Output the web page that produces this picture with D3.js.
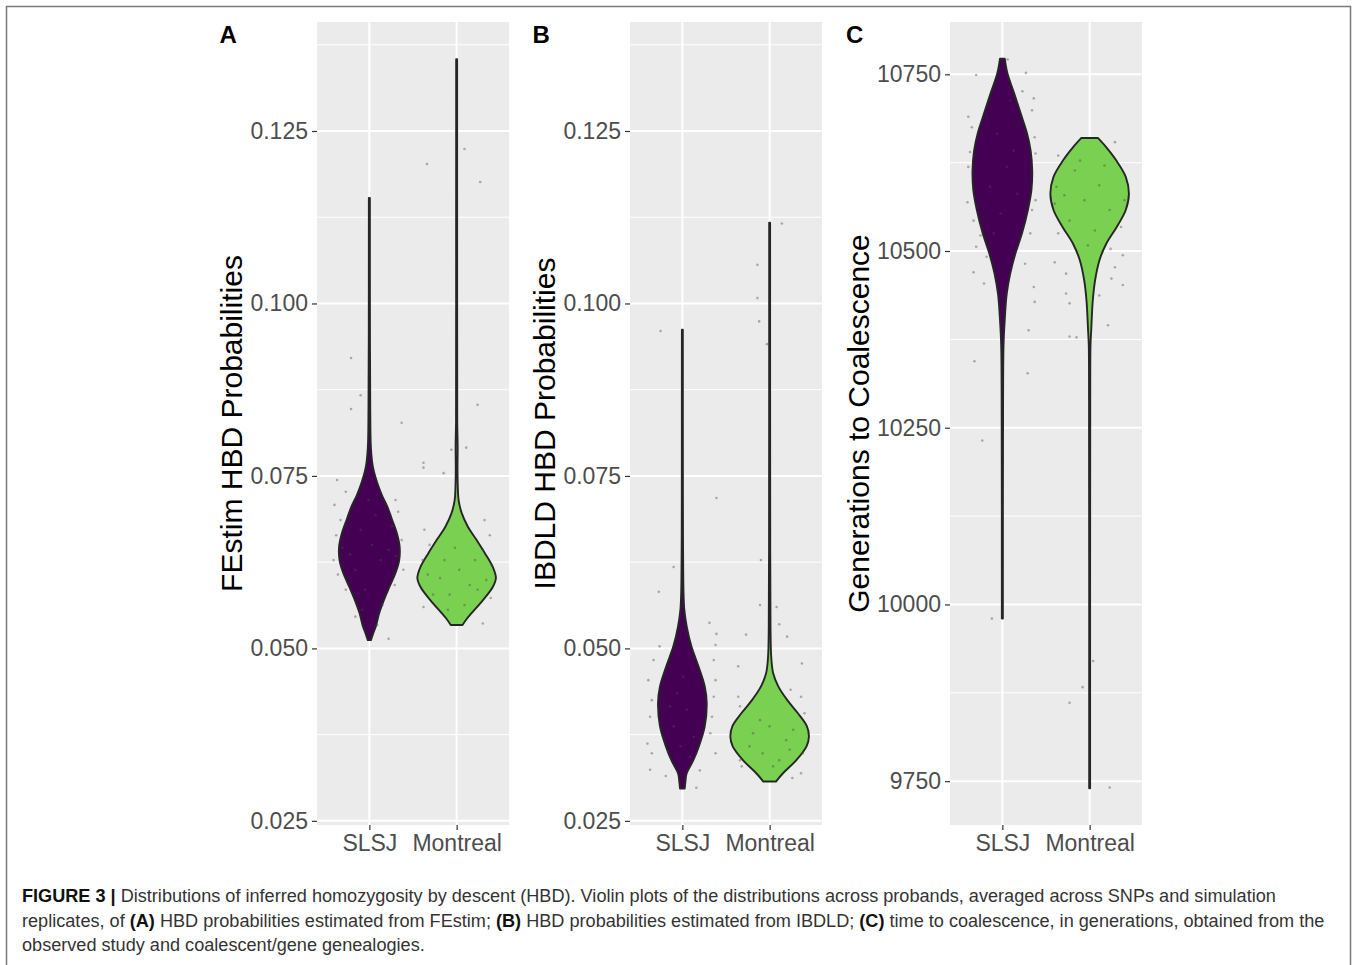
<!DOCTYPE html>
<html>
<head>
<meta charset="utf-8">
<script src="https://cdn.jsdelivr.net/npm/d3@7"></script>
<style>
  body { margin: 0; background: #fff; }
  text { font-family: "Liberation Sans", Arial, Helvetica, sans-serif; }
</style>
</head>
<body>
<svg id="fig" width="1354" height="965"></svg>
<script>
// Violin plots of HBD probabilities / generations to coalescence (three panels)

const groups = ["SLSJ", "Montreal"];
const probTicks = [0.025, 0.05, 0.075, 0.1, 0.125];
const genTicks = [9750, 10000, 10250, 10500, 10750];

// violin outlines: [value, relative half-width]
const festimSlsj = [[0.0512,0.04],[0.0522,0.10],[0.0533,0.17],[0.0551,0.25],[0.0570,0.37],[0.0589,0.51],[0.0610,0.67],[0.0628,0.76],[0.0648,0.77],[0.0667,0.70],[0.0688,0.57],[0.0705,0.46],[0.0722,0.32],[0.0740,0.20],[0.0763,0.09],[0.0790,0.04],[0.0850,0.022],[0.0950,0.015],[0.1153,0.013]];
const festimMontreal = [[0.0534,0.15],[0.0543,0.26],[0.0551,0.38],[0.0570,0.67],[0.0589,0.92],[0.0602,1.0],[0.0618,0.92],[0.0638,0.72],[0.0657,0.51],[0.0676,0.29],[0.0696,0.13],[0.0715,0.05],[0.0734,0.03],[0.0760,0.022],[0.0792,0.026],[0.0830,0.015],[0.1000,0.013],[0.1354,0.012]];
const ibdldSlsj = [[0.0297,0.06],[0.0308,0.08],[0.0319,0.11],[0.0338,0.28],[0.0358,0.42],[0.0387,0.57],[0.0421,0.62],[0.0445,0.57],[0.0474,0.41],[0.0503,0.23],[0.0532,0.11],[0.0556,0.05],[0.0580,0.03],[0.0643,0.018],[0.0715,0.014],[0.0962,0.012]];
const ibdldMontreal = [[0.0307,0.16],[0.0319,0.34],[0.0338,0.68],[0.0358,0.94],[0.0372,1.0],[0.0387,0.95],[0.0406,0.72],[0.0425,0.45],[0.0445,0.22],[0.0464,0.09],[0.0488,0.04],[0.0532,0.022],[0.0643,0.015],[0.1117,0.012]];
const genSlsj = [[9980,0.013],[10289,0.018],[10367,0.03],[10402,0.06],[10439,0.11],[10468,0.2],[10496,0.33],[10525,0.5],[10558,0.65],[10586,0.74],[10614,0.76],[10642,0.72],[10666,0.63],[10694,0.47],[10723,0.3],[10751,0.13],[10772,0.06]];
const genMontreal = [[9740,0.012],[10289,0.015],[10367,0.022],[10388,0.04],[10430,0.08],[10459,0.14],[10487,0.25],[10510,0.42],[10534,0.69],[10558,0.92],[10581,1.0],[10605,0.92],[10628,0.68],[10647,0.42],[10660,0.21]];

// jittered probands: [offset in category units, value]
const festimSlsjPts = [[-0.21,0.0921],[-0.10,0.0867],[-0.21,0.0847],[0.37,0.0827],[-0.37,0.0744],[-0.27,0.0727],[-0.40,0.0708],[-0.33,0.0686],[-0.38,0.0664],[-0.31,0.0646],[-0.41,0.0628],[-0.36,0.0607],[-0.27,0.0585],[0.30,0.0715],[0.33,0.0698],[0.26,0.0677],[0.37,0.0657],[0.31,0.0634],[0.39,0.0614],[0.29,0.0592],[-0.16,0.0546],[0.22,0.0514],[0.09,0.0534],[0.15,0.0563],[-0.10,0.0672],[0.03,0.0650],[0.13,0.0628],[-0.16,0.0614],[-0.05,0.0585],[0.07,0.0693],[-0.22,0.0636],[0.22,0.0643],[-0.01,0.0715],[-0.08,0.0556]];
const festimMontrealPts = [[-0.34,0.1202],[0.09,0.1224],[0.27,0.1176],[0.24,0.0853],[0.11,0.0791],[-0.06,0.0788],[-0.38,0.0769],[-0.38,0.0762],[-0.15,0.0754],[-0.37,0.0672],[-0.31,0.0650],[-0.39,0.0628],[-0.33,0.0607],[-0.27,0.0578],[-0.38,0.0560],[0.32,0.0686],[0.38,0.0664],[0.30,0.0643],[0.40,0.0621],[0.34,0.0599],[0.39,0.0573],[0.30,0.0536],[-0.14,0.0628],[0.03,0.0614],[0.15,0.0592],[-0.08,0.0578],[-0.19,0.0602],[0.21,0.0628],[-0.02,0.0646],[0.09,0.0563],[-0.10,0.0556],[0.24,0.0585]];
const ibdldSlsjPts = [[-0.25,0.0960],[0.39,0.0718],[-0.10,0.0618],[-0.27,0.0582],[0.31,0.0537],[0.39,0.0521],[0.38,0.0505],[-0.26,0.0503],[-0.33,0.0483],[0.36,0.0483],[-0.39,0.0454],[0.38,0.0454],[-0.35,0.0425],[0.36,0.0430],[-0.37,0.0401],[0.34,0.0401],[-0.40,0.0362],[0.32,0.0377],[-0.35,0.0348],[0.38,0.0348],[-0.37,0.0324],[0.20,0.0323],[-0.19,0.0315],[0.16,0.0298],[-0.06,0.0435],[0.05,0.0411],[-0.10,0.0387],[0.13,0.0372],[0.01,0.0459],[-0.14,0.0416],[0.09,0.0343],[-0.02,0.0358]];
const ibdldMontrealPts = [[-0.14,0.1056],[-0.14,0.1008],[-0.12,0.0974],[-0.03,0.0941],[0.14,0.1116],[-0.10,0.0628],[-0.11,0.0563],[0.08,0.0560],[0.11,0.0535],[0.20,0.0517],[-0.27,0.0520],[-0.36,0.0474],[0.37,0.0478],[-0.36,0.0430],[0.36,0.0430],[0.24,0.0440],[-0.34,0.0416],[0.40,0.0406],[-0.34,0.0338],[0.38,0.0348],[-0.32,0.0329],[0.26,0.0312],[0.36,0.0319],[-0.19,0.0377],[0.00,0.0387],[0.19,0.0367],[-0.08,0.0348],[0.11,0.0338],[-0.11,0.0396],[0.27,0.0382],[0.04,0.0329],[-0.23,0.0358],[0.23,0.0353]];
const genSlsjPts = [[-0.30,10749],[0.06,10771],[0.27,10752],[0.23,10726],[0.36,10716],[0.34,10699],[-0.39,10690],[-0.35,10675],[0.37,10661],[-0.37,10640],[0.38,10638],[-0.39,10619],[-0.40,10569],[0.38,10572],[0.34,10558],[-0.33,10543],[-0.25,10522],[0.32,10525],[-0.30,10506],[-0.18,10492],[0.26,10482],[-0.33,10470],[-0.21,10454],[0.36,10449],[0.37,10428],[0.30,10388],[-0.32,10344],[0.29,10327],[-0.23,10232],[-0.12,9980],[-0.06,10666],[0.05,10619],[-0.14,10591],[0.17,10581],[-0.02,10553],[0.09,10713],[-0.10,10525],[0.13,10642]];
const genMontrealPts = [[-0.36,10635],[0.29,10654],[-0.38,10591],[0.40,10572],[-0.40,10567],[0.36,10534],[-0.36,10525],[0.38,10494],[0.24,10503],[-0.40,10484],[0.29,10477],[-0.27,10468],[0.25,10461],[0.38,10452],[-0.27,10440],[-0.23,10426],[0.11,10437],[0.21,10395],[-0.23,10379],[-0.15,10378],[0.04,9920],[-0.08,9883],[-0.23,9861],[0.23,9741],[-0.17,10614],[0.11,10593],[-0.06,10572],[0.23,10558],[-0.23,10543],[0.06,10529],[-0.11,10628],[0.17,10621],[-0.02,10508],[-0.29,10579]];

const colors = ["#440154", "#7AD151"];

const panels = [
  { letter: "A", title: "FEstim HBD Probabilities", ticks: probTicks, domain: [0.0244, 0.1408], fmt: d3.format(".3f"),
    violins: [festimSlsj, festimMontreal], pts: [festimSlsjPts, festimMontrealPts], left: 317 },
  { letter: "B", title: "IBDLD HBD Probabilities", ticks: probTicks, domain: [0.0244, 0.1408], fmt: d3.format(".3f"),
    violins: [ibdldSlsj, ibdldMontreal], pts: [ibdldSlsjPts, ibdldMontrealPts], left: 630 },
  { letter: "C", title: "Generations to Coalescence", ticks: genTicks, domain: [9688, 10824], fmt: d3.format("d"),
    violins: [genSlsj, genMontreal], pts: [genSlsjPts, genMontrealPts], left: 950 }
];

const svg = d3.select("#fig");
const pTop = 22, pBot = 825, pW = 192;

// outer frame (bottom edge falls below the page)
svg.append("path")
  .attr("d", "M6.5,975 V6.5 H1350.5 V975")
  .attr("fill", "none")
  .attr("stroke", "#7a7a7a")
  .attr("stroke-width", 1.5);

panels.forEach(p => {
  const x = d3.scalePoint().domain(groups).range([p.left, p.left + pW]).padding(0.6);
  const y = d3.scaleLinear().domain(p.domain).range([pBot, pTop]);
  const w = d3.scaleLinear().domain([0, 1]).range([0, 0.45 * x.step()]);
  const g = svg.append("g");

  // panel background + grid
  g.append("rect").attr("x", p.left).attr("y", pTop).attr("width", pW).attr("height", pBot - pTop).attr("fill", "#EBEBEB");
  const step = p.ticks[1] - p.ticks[0];
  const minor = [p.ticks[0] - step / 2].concat(p.ticks.map(t => t + step / 2))
    .filter(v => v > p.domain[0] && v < p.domain[1]);
  g.selectAll(".minor").data(minor).enter().append("line")
    .attr("x1", p.left).attr("x2", p.left + pW)
    .attr("y1", d => y(d)).attr("y2", d => y(d))
    .attr("stroke", "#fff").attr("stroke-width", 1);
  g.selectAll(".major").data(p.ticks).enter().append("line")
    .attr("x1", p.left).attr("x2", p.left + pW)
    .attr("y1", d => y(d)).attr("y2", d => y(d))
    .attr("stroke", "#fff").attr("stroke-width", 2);
  g.selectAll(".vgrid").data(groups).enter().append("line")
    .attr("x1", d => x(d)).attr("x2", d => x(d))
    .attr("y1", pTop).attr("y2", pBot)
    .attr("stroke", "#fff").attr("stroke-width", 2);

  // violins
  groups.forEach((grp, i) => {
    const cx = x(grp);
    const area = d3.area()
      .curve(d3.curveCatmullRom.alpha(0.5))
      .y(d => y(d[0]))
      .x0(d => cx - w(d[1]))
      .x1(d => cx + w(d[1]));
    g.append("path")
      .datum(p.violins[i])
      .attr("d", area)
      .attr("fill", colors[i])
      .attr("stroke", "#262626")
      .attr("stroke-width", 1.9)
      .attr("stroke-linejoin", "round");
  });

  // jittered points
  groups.forEach((grp, i) => {
    g.selectAll(null).data(p.pts[i]).enter().append("circle")
      .attr("cx", d => x(grp) + d[0] * x.step())
      .attr("cy", d => y(d[1]))
      .attr("r", 1.3)
      .attr("fill", "#4a4a4a")
      .attr("fill-opacity", 0.42);
  });

  // axes
  const ya = g.append("g")
    .attr("transform", `translate(${p.left},0)`)
    .call(d3.axisLeft(y).tickValues(p.ticks).tickFormat(p.fmt).tickSize(5).tickPadding(4));
  const xa = g.append("g")
    .attr("transform", `translate(0,${pBot})`)
    .call(d3.axisBottom(x).tickSize(5).tickPadding(5));
  [ya, xa].forEach(a => {
    a.select(".domain").remove();
    a.selectAll(".tick line").attr("stroke", "#333").attr("stroke-width", 1.2);
    a.selectAll(".tick text").attr("fill", "#4D4D4D").attr("font-size", 23)
      .style("font-family", "'Liberation Sans', Arial, sans-serif");
  });

  const bb = ya.node().getBBox();
  const tx = p.left + bb.x - 8;
  g.append("text")
    .attr("transform", `translate(${tx},${(pTop + pBot) / 2}) rotate(-90)`)
    .attr("text-anchor", "middle")
    .attr("font-size", 30)
    .attr("fill", "#000")
    .text(p.title);

  g.append("text")
    .attr("x", p.left + bb.x - 31)
    .attr("y", 43)
    .attr("font-size", 24)
    .attr("font-weight", "bold")
    .attr("fill", "#000")
    .text(p.letter);
});

// caption
const capLines = [
  [["FIGURE 3 |", true], [" Distributions of inferred homozygosity by descent (HBD). Violin plots of the distributions across probands, averaged across SNPs and simulation", false]],
  [["replicates, of ", false], ["(A)", true], [" HBD probabilities estimated from FEstim; ", false], ["(B)", true], [" HBD probabilities estimated from IBDLD; ", false], ["(C)", true], [" time to coalescence, in generations, obtained from the", false]],
  [["observed study and coalescent/gene genealogies.", false]]
];
const cap = svg.append("g");
const capTexts = capLines.map((line, i) => {
  const t = cap.append("text").attr("x", 22).attr("y", 902 + i * 24.5).attr("font-size", 17);
  line.forEach(([s, b]) => {
    t.append("tspan").attr("font-weight", b ? "bold" : null).attr("fill", b ? "#111" : "#333").text(s);
  });
  return t;
});
// fit the first line to the reference width
const fs = 17 * 1255 / capTexts[0].node().getComputedTextLength();
capTexts.forEach(t => t.attr("font-size", fs));
</script>
</body>
</html>
